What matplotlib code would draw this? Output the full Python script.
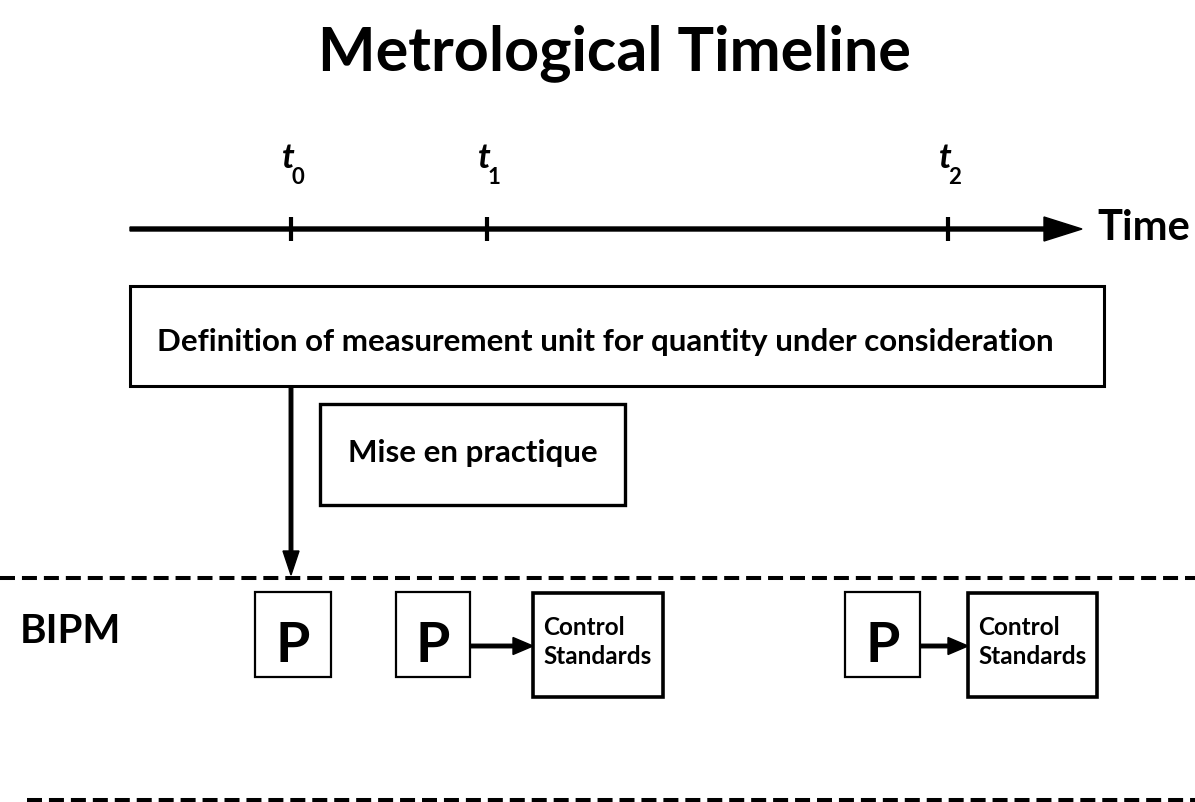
import matplotlib
matplotlib.use("Agg")
import matplotlib.pyplot as plt
from matplotlib.patches import Rectangle

plt.rcParams["font.family"] = ["Lato", "DejaVu Sans"]
plt.rcParams["font.weight"] = "bold"
plt.rcParams["lines.scale_dashes"] = False

# Time points on the timeline (pixel x positions) and their labels
tick_x = [291, 487, 948]
tick_sub = ["0", "1", "2"]

# BIPM row: prototype boxes and control standard boxes
p_boxes = [(255, 331), (396, 470), (845, 920)]
cs_boxes = [(533, 663), (968, 1097)]
arrow_pairs = [(470, 533), (920, 968)]

W, H = 1195, 802
fig = plt.figure(figsize=(W / 100, H / 100), dpi=100)
ax = fig.add_axes([0, 0, 1, 1])
ax.set_xlim(0, W)
ax.set_ylim(H, 0)
ax.axis("off")

# title
ax.text(614, 70, "Metrological Timeline", ha="center", va="baseline",
        fontsize=44, fontweight="bold")

# time axis
axis_y = 229
ax.arrow(130, axis_y, 952, 0, width=4, head_width=24, head_length=38,
         length_includes_head=True, color="black")
ax.text(1097, 240, "Time", ha="left", va="baseline", fontsize=30, fontweight="bold")

for x, s in zip(tick_x, tick_sub):
    ax.plot([x, x], [217, 241], color="black", lw=3, solid_capstyle="butt")
    ax.text(x - 3, 168, "t", ha="center", va="baseline", fontsize=25,
            fontstyle="italic", fontweight="bold")
    ax.text(x + 7, 184, s, ha="center", va="baseline", fontsize=16, fontweight="bold")

# definition box
ax.add_patch(Rectangle((130, 286), 974, 100, fill=False, lw=2.2, ec="black"))
ax.text(605, 351, "Definition of measurement unit for quantity under consideration",
        ha="center", va="baseline", fontsize=22.5, fontweight="bold")

# mise en practique box
ax.add_patch(Rectangle((320, 404), 305, 101, fill=False, lw=2.4, ec="black"))
ax.text(473, 462, "Mise en practique", ha="center", va="baseline", fontsize=22.5,
        fontweight="bold")

# arrow from definition down to BIPM line
ax.arrow(291, 386, 0, 189, width=3.5, head_width=16, head_length=24,
         length_includes_head=True, color="black")

# dashed separators
ax.plot([0, W], [578, 578], color="black", lw=2.9, dashes=(10.8, 5))
ax.plot([27, W], [800, 800], color="black", lw=2.9, dashes=(10.8, 5))

ax.text(20, 643, "BIPM", ha="left", va="baseline", fontsize=29, fontweight="bold")

for x0, x1 in p_boxes:
    ax.add_patch(Rectangle((x0, 592), x1 - x0, 85, fill=False, lw=1.6, ec="black"))
    ax.text((x0 + x1) / 2, 662, "P", ha="center", va="baseline", fontsize=40,
            fontweight="bold")

for x0, x1 in cs_boxes:
    ax.add_patch(Rectangle((x0, 593), x1 - x0, 104, fill=False, lw=2.6, ec="black"))
    ax.text(x0 + 10, 635, "Control", ha="left", va="baseline", fontsize=17.5,
            fontweight="bold")
    ax.text(x0 + 10, 664, "Standards", ha="left", va="baseline", fontsize=17.5,
            fontweight="bold")

for x0, x1 in arrow_pairs:
    ax.arrow(x0, 646, x1 - x0, 0, width=3.5, head_width=17, head_length=20,
             length_includes_head=True, color="black")

fig.savefig("out.png", dpi=100)
